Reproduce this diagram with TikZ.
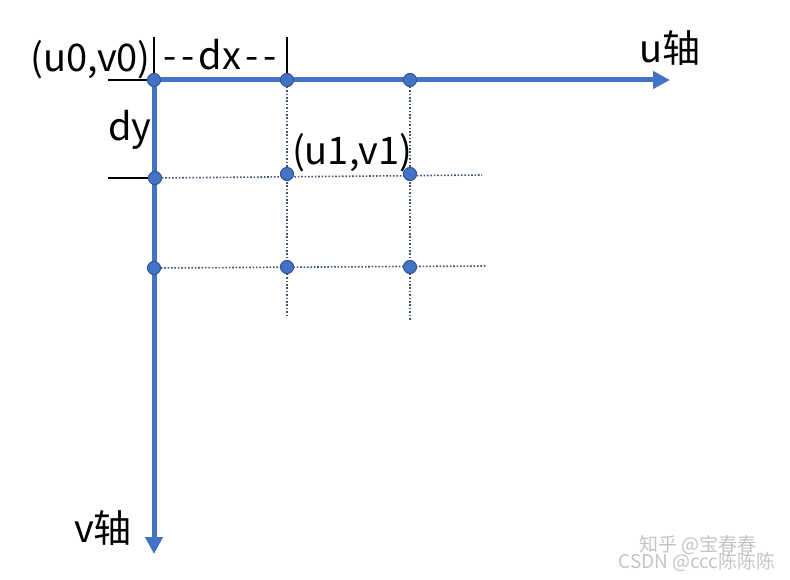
\documentclass[tikz,border=0pt]{standalone}
\usepackage{fontspec}
\setmainfont{Noto Sans CJK SC}
\usetikzlibrary{arrows.meta}
\definecolor{axisblue}{HTML}{4472C4}
\definecolor{dotedge}{HTML}{2F528F}
\definecolor{gridgray}{HTML}{44546A}
\definecolor{wmgray}{HTML}{C4C4C4}
\begin{document}
\begin{tikzpicture}[x=1pt,y=-1pt,
  axis/.style={draw=axisblue,line width=5pt,-{Triangle[length=17pt,width=17pt]}},
  gpt/.style={circle,fill=axisblue,draw=dotedge,line width=0.8pt,inner sep=0pt,minimum size=13pt},
  grid/.style={draw=gridgray,line width=1.6pt,dash pattern=on 1.6pt off 1.8pt},
  tick/.style={draw=black,line width=1.8pt},
  lbl/.style={font=\fontsize{38}{42}\selectfont,inner sep=0pt},
  wm/.style={font=\fontsize{19}{21}\selectfont,text=wmgray,inner sep=0pt}]
\useasboundingbox (0,0) rectangle (790,580);
% free ends
\coordinate (uend) at (670,80);
\coordinate (vend) at (154,554);
\coordinate (r1end) at (482,175);
\coordinate (r2end) at (486,266);
\coordinate (c1end) at (287,318);
\coordinate (c2end) at (410,320);
\coordinate (t0) at (108,80);
\coordinate (t1) at (108,178);
\coordinate (b0) at (154,37);
\coordinate (b1) at (287,37);
% grid points
\node[gpt] (p00) at (154,80) {};
\node[gpt] (p10) at (287,80) {};
\node[gpt] (p20) at (410,80) {};
\node[gpt] (p01) at (155,178) {};
\node[gpt] (p11) at (287,174) {};
\node[gpt] (p21) at (410,174) {};
\node[gpt] (p02) at (154,268) {};
\node[gpt] (p12) at (287,267) {};
\node[gpt] (p22) at (410,267) {};
% dotted grid
\draw[grid] (p01.center) -- (r1end);
\draw[grid] (p02.center) -- (r2end);
\draw[grid] (p10.center) -- (c1end);
\draw[grid] (p20.center) -- (c2end);
% black ticks
\draw[tick] (t0) -- (p00.center);
\draw[tick] (t1) -- (p01.center);
\draw[tick] (b0) -- (p00.center);
\draw[tick] (b1) -- (p10.center);
% axes
\draw[axis] (p00.center) -- (uend);
\draw[axis] (p00.center) -- (vend);
% dots on top
\foreach \n/\p in {a/{154,80},b/{287,80},c/{410,80},d/{155,178},e/{154,268},f/{287,174},g/{410,174},h/{287,267},i/{410,267}}
  \node[gpt] (q\n) at (\p) {};
% labels
\node[lbl,anchor=east] (lo) at (151,60) {(u0,v0)};
\node[lbl] (ldx) at (220,55) {-\hspace{5pt}-\hspace{4pt}dx\hspace{4pt}-\hspace{5pt}-};
\node[lbl] (ldy) at (130,130) {dy};
\node[lbl] (l11) at (352,153) {(u1,v1)};
\node[lbl] (lu) at (670,48) {u轴};
\node[lbl] (lv) at (103,528) {v轴};
% watermarks
\node[wm] (w1) at (698,545) {知乎 @宝春春};
\node[wm] (w2) at (697,562) {CSDN @ccc陈陈陈};
\end{tikzpicture}
\end{document}
